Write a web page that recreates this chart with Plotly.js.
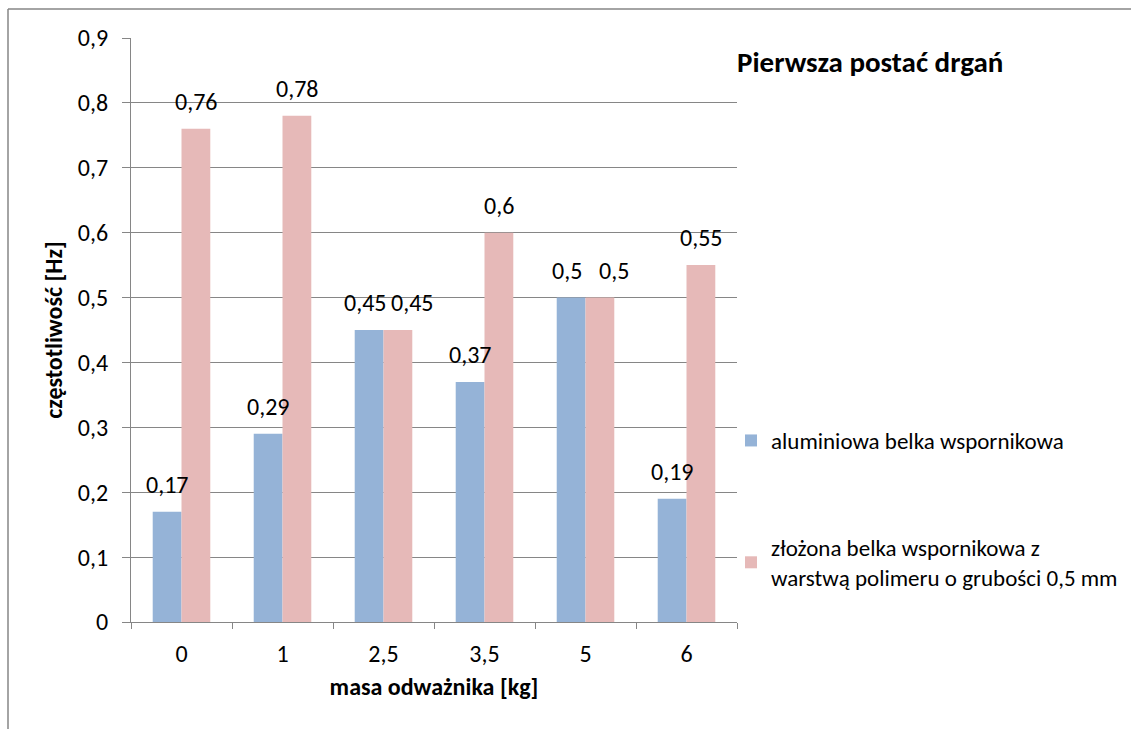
<!DOCTYPE html>
<html>
<head>
<meta charset="utf-8">
<script src="https://cdn.plot.ly/plotly-3.0.1.min.js"></script>
<style>html,body{margin:0;padding:0;background:#fff;}#chart{width:1131px;height:729px;}</style>
</head>
<body>
<div id="chart"></div>
<script>
const categories = ['0', '1', '2,5', '3,5', '5', '6'];
const aluminium = [0.17, 0.29, 0.45, 0.37, 0.5, 0.19];
const composite = [0.76, 0.78, 0.45, 0.6, 0.5, 0.55];
const seriesNames = ['aluminiowa belka wspornikowa', 'złożona belka wspornikowa z<br>warstwą polimeru o grubości 0,5 mm'];
const yTicks = [0, 0.1, 0.2, 0.3, 0.4, 0.5, 0.6, 0.7, 0.8, 0.9];
const yTickText = ['0', '0,1', '0,2', '0,3', '0,4', '0,5', '0,6', '0,7', '0,8', '0,9'];

const FONT = 'Carlito, Lato, "Open Sans", sans-serif';
const FS = 24;
const fmt = v => String(v).replace('.', ',');

const L = 131, R = 737, T = 38, B = 622, W = 1131, H = 729;
const px = x => (x - L) / (R - L);
const py = y => (B - y) / (B - T);

const BARGAP = 0.43;
const half = (1 - BARGAP) / 4; // offset of each bar centre from the category centre, in category units

const traces = [
  {type: 'bar', x: categories, y: aluminium, name: seriesNames[0], legendgroup: 'a',
   marker: {color: '#95B3D7'}, hoverinfo: 'none'},
  {type: 'bar', x: categories, y: composite, name: seriesNames[1], legendgroup: 'b',
   marker: {color: '#E6B9B8'}, hoverinfo: 'none'}
];

// value labels placed through the axes; labels of equal-height pairs are pushed apart
const annotations = [];
categories.forEach((c, i) => {
  const clash = Math.abs(aluminium[i] - composite[i]) < 0.03;
  annotations.push({x: i - half, y: aluminium[i], xref: 'x', yref: 'y', text: fmt(aluminium[i]),
    showarrow: false, yanchor: 'bottom', xanchor: 'center', yshift: 11, xshift: clash ? -4 : 0,
    font: {family: FONT, size: FS, color: '#000'}});
  annotations.push({x: i + half, y: composite[i], xref: 'x', yref: 'y', text: fmt(composite[i]),
    showarrow: false, yanchor: 'bottom', xanchor: 'center', yshift: 11, xshift: clash ? 14 : 0,
    font: {family: FONT, size: FS, color: '#000'}});
});

const layout = {
  width: W, height: H,
  margin: {l: L, r: W - R, t: T, b: H - B, pad: 0, autoexpand: false},
  paper_bgcolor: '#fff', plot_bgcolor: '#fff',
  font: {family: FONT, size: FS, color: '#000'},
  barmode: 'group', bargap: BARGAP, bargroupgap: 0,
  showlegend: true,
  legend: {x: px(731), y: py(419), xanchor: 'left', yanchor: 'top',
           traceorder: 'grouped', tracegroupgap: 74,
           font: {family: FONT, size: 23, color: '#000'}, bgcolor: 'rgba(0,0,0,0)'},
  title: {text: '<b>Pierwsza postać drgań</b>', x: 737 / W, xanchor: 'left', xref: 'container',
          y: 1 - 62 / H, yanchor: 'middle', yref: 'container',
          font: {family: FONT, size: 29, color: '#000'}},
  xaxis: {type: 'category', showgrid: false, showline: true, linecolor: '#868686', linewidth: 1,
          ticks: 'outside', tickson: 'boundaries', ticklen: 6, tickcolor: '#868686',
          ticklabelstandoff: 10,
          tickfont: {family: FONT, size: FS}, fixedrange: true,
          title: {text: '<b>masa odważnika [kg]</b>', font: {family: FONT, size: FS}, standoff: 11}},
  yaxis: {range: [0, 0.9], tickvals: yTicks, ticktext: yTickText, showgrid: true, gridcolor: '#868686',
          gridwidth: 1, showline: true, linecolor: '#868686', linewidth: 1, zeroline: false,
          ticks: 'outside', ticklen: 8, tickcolor: '#868686', ticklabelstandoff: 9,
          tickfont: {family: FONT, size: FS}, fixedrange: true,
          title: {text: '<b>częstotliwość [Hz]</b>', font: {family: FONT, size: FS}, standoff: 8}},
  annotations: annotations,
  shapes: [
    {type: 'line', xref: 'paper', yref: 'paper', x0: px(8), x1: px(1131), y0: py(9), y1: py(9),
     line: {color: '#868686', width: 1.5}},
    {type: 'line', xref: 'paper', yref: 'paper', x0: px(8), x1: px(8), y0: py(9), y1: py(729),
     line: {color: '#868686', width: 1.5}}
  ]
};

Plotly.newPlot('chart', traces, layout, {staticPlot: true, displayModeBar: false});
</script>
</body>
</html>
